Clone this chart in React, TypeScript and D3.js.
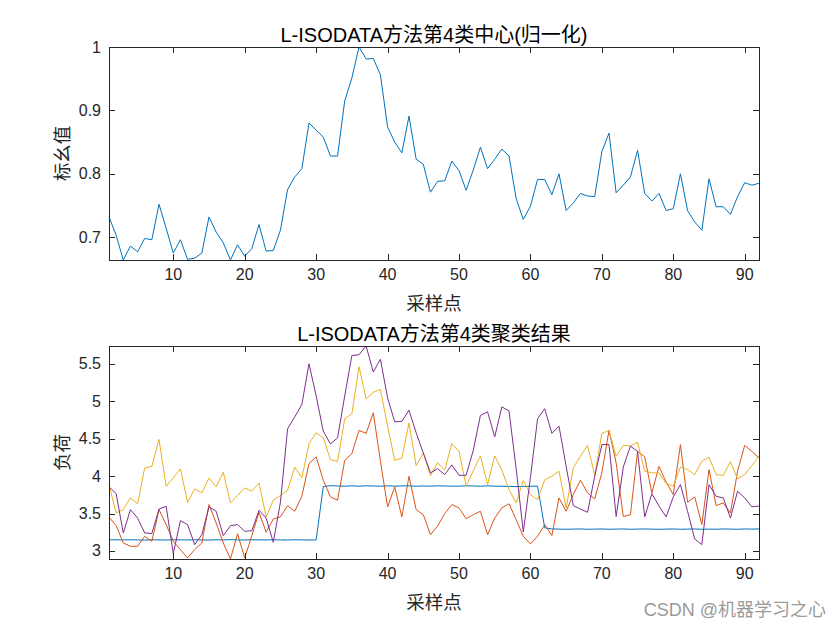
import React from "react";
import * as d3 from "d3";

// sample index 1..92
const sampleIdx = d3.range(1, 93);

// top chart: normalised centre of class 4
const centerValues = [
  0.732, 0.703, 0.664, 0.686, 0.677, 0.698, 0.696, 0.752, 0.714, 0.675,
  0.696, 0.665, 0.667, 0.675, 0.732, 0.708, 0.691, 0.664, 0.688, 0.670,
  0.682, 0.720, 0.678, 0.679, 0.711, 0.775, 0.795, 0.808, 0.880, 0.869,
  0.858, 0.828, 0.828, 0.915, 0.951, 1.0, 0.981, 0.982, 0.956, 0.874,
  0.850, 0.833, 0.891, 0.823, 0.815, 0.771, 0.788, 0.789, 0.820, 0.805,
  0.774, 0.806, 0.842, 0.808, 0.823, 0.839, 0.828, 0.761, 0.728, 0.749,
  0.791, 0.791, 0.767, 0.800, 0.742, 0.754, 0.769, 0.765, 0.764, 0.835,
  0.864, 0.770, 0.782, 0.795, 0.837, 0.769, 0.757, 0.769, 0.742, 0.745,
  0.800, 0.742, 0.724, 0.711, 0.792, 0.748, 0.748, 0.736, 0.764, 0.786,
  0.782, 0.785,
];

// bottom chart: clustering result, four load curves
const blueLoad = [
  3.148, 3.15, 3.147, 3.15, 3.148, 3.146, 3.15, 3.148, 3.147, 3.15,
  3.148, 3.147, 3.15, 3.148, 3.146, 3.15, 3.148, 3.152, 3.148, 3.147,
  3.15, 3.148, 3.147, 3.15, 3.148, 3.147, 3.15, 3.148, 3.147, 3.148,
  3.86, 3.872, 3.868, 3.865, 3.87, 3.866, 3.87, 3.868, 3.865, 3.87,
  3.866, 3.868, 3.87, 3.865, 3.868, 3.866, 3.87, 3.868, 3.865, 3.866,
  3.87, 3.868, 3.865, 3.87, 3.866, 3.864, 3.862, 3.86, 3.862, 3.864,
  3.866, 3.31, 3.294, 3.292, 3.29, 3.292, 3.294, 3.29, 3.292, 3.294,
  3.29, 3.292, 3.294, 3.29, 3.292, 3.294, 3.292, 3.29, 3.292, 3.294,
  3.29, 3.292, 3.294, 3.29, 3.292, 3.29, 3.294, 3.292, 3.29, 3.294,
  3.292, 3.294,
];

const redLoad = [
  3.45, 3.34, 3.107, 3.063, 3.063, 3.196, 3.13, 3.552, 3.352, 3.13,
  3.017, 2.906, 3.02, 3.107, 3.62, 3.374, 3.107, 2.893, 3.23, 2.906,
  3.205, 3.517, 3.25, 3.428, 3.455, 3.606, 3.53, 3.73, 4.167, 4.257,
  3.945, 3.722, 3.678, 4.21, 4.3, 4.61, 4.57, 4.845, 4.2, 3.588,
  3.856, 3.455, 3.998, 3.552, 3.485, 3.218, 3.33, 3.5, 3.62, 3.575,
  3.43, 3.485, 3.53, 3.218, 3.44, 3.575, 3.63, 3.42, 3.196, 3.094,
  3.196, 3.352, 3.205, 3.709, 3.53, 3.753, 3.945, 3.775, 3.695, 4.043,
  4.61, 4.176, 3.46, 3.485, 4.33, 4.257, 3.775, 4.13, 3.918, 3.753,
  4.42, 3.65, 3.722, 3.352, 4.087, 3.606, 3.642, 3.508, 4.065, 4.41,
  4.33, 4.243,
];

const yellowLoad = [
  3.886, 3.508, 3.552, 3.709, 3.628, 4.11, 4.13, 4.49, 3.865, 3.976,
  4.096, 3.65, 3.83, 3.775, 3.976, 3.856, 4.052, 3.642, 3.74, 3.842,
  3.798, 3.909, 3.455, 3.678, 3.74, 3.811, 4.119, 3.976, 4.434, 4.578,
  4.51, 4.22, 4.194, 4.765, 4.83, 5.46, 5.03, 5.12, 5.157, 4.667,
  4.21, 4.24, 4.71, 4.14, 4.31, 4.007, 4.18, 4.08, 4.434, 4.33,
  3.865, 4.07, 4.27, 3.886, 4.27, 4.08, 3.82, 3.642, 3.94, 3.753,
  3.687, 3.95, 4.0, 4.065, 3.575, 4.11, 4.265, 4.41, 4.01, 4.57,
  4.61, 4.265, 4.41, 4.4, 4.453, 4.065, 4.043, 4.043, 3.9, 3.865,
  4.12, 4.087, 4.02, 4.2, 4.25, 4.02, 4.01, 4.194, 3.963, 4.02,
  4.14, 4.265,
];

const purpleLoad = [
  3.856, 3.766, 3.24, 3.552, 3.44, 3.24, 3.233, 3.56, 3.597, 2.964,
  3.405, 3.352, 3.085, 3.218, 3.59, 3.53, 3.205, 3.338, 3.352, 3.263,
  3.27, 3.545, 3.44, 3.116, 3.65, 4.63, 4.79, 4.956, 5.5, 5.07,
  4.6, 4.43, 4.51, 5.07, 5.61, 5.62, 5.737, 5.39, 5.56, 5.045,
  4.725, 4.73, 4.88, 4.578, 4.31, 4.043, 4.1, 4.02, 4.15, 4.01,
  4.01, 4.346, 4.81, 4.858, 4.524, 4.925, 4.87, 4.1, 3.254, 3.98,
  4.765, 4.9, 4.57, 4.667, 4.13, 3.606, 3.56, 3.517, 3.998, 4.42,
  4.42, 3.46, 4.12, 4.4, 4.33, 3.455, 3.766, 3.6, 3.455, 3.722,
  3.886, 3.53, 3.16, 3.085, 3.886, 3.73, 3.709, 3.44, 3.798, 3.709,
  3.59, 3.6,
];

const xTicks = [10, 20, 30, 40, 50, 60, 70, 80, 90];
const topYTicks = [0.7, 0.8, 0.9, 1];
const bottomYTicks = [3, 3.5, 4, 4.5, 5, 5.5];

const COLORS = ["#0072BD", "#D95319", "#EDB120", "#7E2F8E"];
const AXIS = "#262626";
const LATIN = "'Liberation Sans', Arial, Helvetica, sans-serif";
const CJK = "'Liberation Sans', 'Noto Sans CJK SC', sans-serif";

const W = 840;
const H = 630;
const PLOT = { left: 109, width: 650, height: 213 };

type PanelProps = {
  top: number;
  title: string;
  yLabel: string;
  series: number[][];
  colors: string[];
  yTicks: number[];
};

const Panel = ({ top, title, yLabel, series, colors, yTicks }: PanelProps) => {
  const all = series.flat();
  const [min, max] = d3.extent(all) as [number, number];

  const xScale = d3.scaleLinear().domain([1, 92]).range([0, PLOT.width]);
  const yScale = d3.scaleLinear().domain([min, max]).range([PLOT.height, 0]);
  const fmt = d3.format("~g");

  const line = d3
    .line<number>()
    .x((_, i) => xScale(sampleIdx[i]))
    .y((d) => yScale(d));

  const tickLen = 6;

  return (
    <g transform={`translate(${PLOT.left},${top})`}>
      {series.map((s, k) => (
        <path
          key={k}
          d={line(s) ?? ""}
          fill="none"
          stroke={colors[k]}
          strokeWidth={1}
        />
      ))}

      {/* box */}
      <rect
        x={0.5}
        y={0.5}
        width={PLOT.width}
        height={PLOT.height}
        fill="none"
        stroke={AXIS}
        strokeWidth={1}
        shapeRendering="crispEdges"
      />

      {/* x ticks */}
      {xTicks.map((t) => {
        const x = Math.round(xScale(t)) + 0.5;
        return (
          <g key={t}>
            <line x1={x} x2={x} y1={PLOT.height} y2={PLOT.height - tickLen} stroke={AXIS} shapeRendering="crispEdges" />
            <line x1={x} x2={x} y1={0} y2={tickLen} stroke={AXIS} shapeRendering="crispEdges" />
            <text
              x={xScale(t)}
              y={PLOT.height + 20}
              textAnchor="middle"
              fontFamily={LATIN}
              fontSize={16}
              fill={AXIS}
            >
              {t}
            </text>
          </g>
        );
      })}

      {/* y ticks */}
      {yTicks.map((t) => {
        const y = Math.round(yScale(t)) + 0.5;
        return (
          <g key={t}>
            <line x1={0} x2={tickLen} y1={y} y2={y} stroke={AXIS} shapeRendering="crispEdges" />
            <line x1={PLOT.width} x2={PLOT.width - tickLen} y1={y} y2={y} stroke={AXIS} shapeRendering="crispEdges" />
            <text
              x={-8}
              y={yScale(t)}
              textAnchor="end"
              dominantBaseline="central"
              fontFamily={LATIN}
              fontSize={16}
              fill={AXIS}
            >
              {fmt(t)}
            </text>
          </g>
        );
      })}

      <text
        x={PLOT.width / 2}
        y={-5}
        textAnchor="middle"
        fontFamily={CJK}
        fontSize={20}
        fill="#000"
      >
        {title}
      </text>

      <text
        x={PLOT.width / 2}
        y={PLOT.height + 50}
        textAnchor="middle"
        fontFamily={CJK}
        fontSize={18.5}
        fill={AXIS}
      >
        采样点
      </text>

      <text
        transform={`translate(${-47},${PLOT.height / 2}) rotate(-90)`}
        textAnchor="middle"
        dominantBaseline="central"
        fontFamily={CJK}
        fontSize={18.5}
        fill={AXIS}
      >
        {yLabel}
      </text>
    </g>
  );
};

export default function App() {
  return (
    <svg
      width={W}
      height={H}
      style={{ position: "absolute", left: 0, top: 0, background: "#fff" }}
    >
      <rect width={W} height={H} fill="#fff" />
      <Panel
        top={47}
        title="L-ISODATA方法第4类中心(归一化)"
        yLabel="标幺值"
        series={[centerValues]}
        colors={[COLORS[0]]}
        yTicks={topYTicks}
      />
      <Panel
        top={346}
        title="L-ISODATA方法第4类聚类结果"
        yLabel="负荷"
        series={[blueLoad, redLoad, yellowLoad, purpleLoad]}
        colors={COLORS}
        yTicks={bottomYTicks}
      />
      <text
        x={826}
        y={616}
        textAnchor="end"
        fontFamily={CJK}
        fontSize={18}
        fill="#9a9a9a"
      >
        CSDN @机器学习之心
      </text>
    </svg>
  );
}
